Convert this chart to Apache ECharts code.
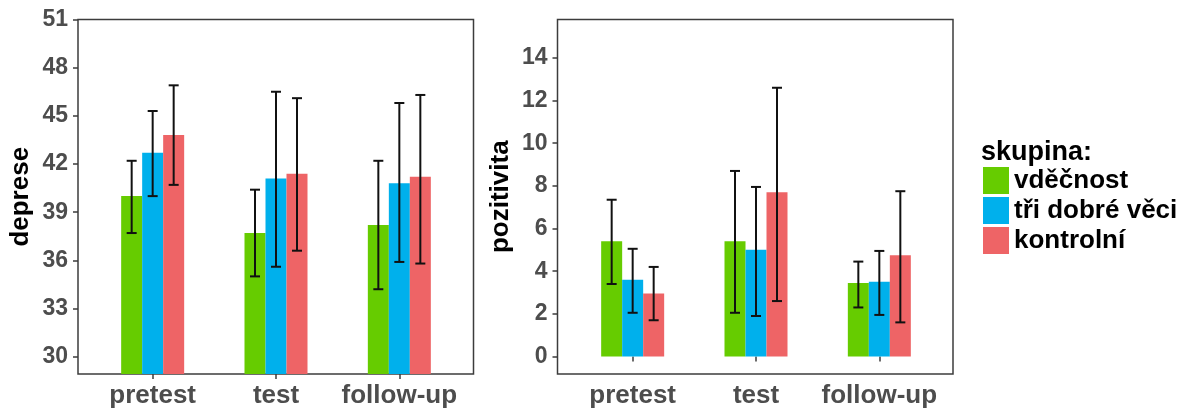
<!DOCTYPE html>
<html>
<head>
<meta charset="utf-8">
<script src="https://cdn.jsdelivr.net/npm/echarts@6/dist/echarts.min.js"></script>
<style>
  html, body { margin: 0; padding: 0; background: #fff; }
  #chart { width: 1180px; height: 409px; }
</style>
</head>
<body>
<div id="chart"></div>
<script>
// data
var categories = ['pretest', 'test', 'follow-up'];
var groups = ['vděčnost', 'tři dobré věci', 'kontrolní'];
var groupColors = ['#66CC00', '#00B0EC', '#EE6466'];

// deprese (left panel)
var depMean = [
  [40.0, 37.7, 38.2],   // vděčnost
  [42.7, 41.1, 40.8],   // tři dobré věci
  [43.8, 41.4, 41.2]    // kontrolní
];
var depLow = [
  [37.7, 35.0, 34.2],
  [40.0, 35.6, 35.9],
  [40.7, 36.6, 35.8]
];
var depHigh = [
  [42.2, 40.4, 42.2],
  [45.3, 46.5, 45.8],
  [46.9, 46.1, 46.3]
];
var depTicks = [30, 33, 36, 39, 42, 45, 48, 51];

// pozitivita (right panel)
var pozMean = [
  [5.4, 5.4, 3.45],
  [3.6, 5.0, 3.5],
  [2.95, 7.7, 4.75]
];
var pozLow = [
  [3.4, 2.05, 2.3],
  [2.05, 1.9, 1.95],
  [1.7, 2.6, 1.6]
];
var pozHigh = [
  [7.35, 8.7, 4.45],
  [5.05, 7.95, 4.95],
  [4.2, 12.6, 7.75]
];
var pozTicks = [0, 2, 4, 6, 8, 10, 12, 14];

var axisGray = '#4d4d4d';
var frameColor = '#3c3c3c';
var barW = 21;

// panel frames (outer box) and inner data grids (narrower so bands match ggplot spacing)
var panels = [
  { frameLeft: 78, dataLeft: 91, name: 'deprese', min: 28.92, max: 51, ticks: depTicks,
    mean: depMean, low: depLow, high: depHigh, nameGap: 44 },
  { frameLeft: 557.5, dataLeft: 571, name: 'pozitivita', min: -0.82, max: 15.8, ticks: pozTicks,
    mean: pozMean, low: pozLow, high: pozHigh, nameGap: 44 }
];
var plotTop = 19.5, plotH = 354.5, frameW = 395.5, dataW = 370;

var grid = [], xAxis = [], yAxis = [], series = [];

panels.forEach(function (p, k) {
  var fi = k * 2, di = k * 2 + 1;
  grid.push({ left: p.frameLeft, top: plotTop, width: frameW, height: plotH,
    show: true, borderColor: frameColor, borderWidth: 1.5, backgroundColor: '#fff' });
  grid.push({ left: p.dataLeft, top: plotTop, width: dataW, height: plotH });

  // frame axes: visible y axis with ticks/labels, x axis only as a hidden helper
  xAxis.push({ gridIndex: fi, type: 'value', min: 0, max: 1, show: false });
  yAxis.push({
    gridIndex: fi, type: 'value', min: p.min, max: p.max,
    name: p.name, nameLocation: 'middle', nameGap: p.nameGap,
    nameTextStyle: { fontFamily: 'Liberation Sans', fontWeight: 'bold', fontSize: 26, color: '#000' },
    axisLine: { show: false },
    splitLine: { show: false },
    axisTick: { show: true, length: 5, customValues: p.ticks,
      lineStyle: { color: frameColor, width: 1.5 } },
    axisLabel: { customValues: p.ticks, margin: 10, fontFamily: 'Liberation Sans',
      fontWeight: 'bold', fontSize: 23, color: axisGray }
  });

  // data axes
  xAxis.push({
    gridIndex: di, type: 'category', data: categories,
    axisLine: { show: false },
    axisTick: { show: true, alignWithLabel: true, interval: 0, length: 5,
      lineStyle: { color: frameColor, width: 1.5 } },
    axisLabel: { interval: 0, margin: 9, fontFamily: 'Liberation Sans', fontWeight: 'bold',
      fontSize: 26, color: axisGray }
  });
  yAxis.push({ gridIndex: di, type: 'value', min: p.min, max: p.max, show: false });

  groups.forEach(function (g, s) {
    series.push({
      name: g, type: 'bar', xAxisIndex: di, yAxisIndex: di,
      barWidth: barW, barGap: '0%',
      itemStyle: { color: groupColors[s] },
      data: p.mean[s]
    });
  });

  // error bars
  var errData = [];
  groups.forEach(function (g, s) {
    categories.forEach(function (c, i) {
      errData.push([i, p.low[s][i], p.high[s][i], s]);
    });
  });
  series.push({
    name: 'err' + k, type: 'custom', xAxisIndex: di, yAxisIndex: di, z: 10,
    data: errData,
    encode: { x: 0, y: [1, 2] },
    renderItem: function (params, api) {
      var off = (api.value(3) - 1) * barW;
      var lo = api.coord([api.value(0), api.value(1)]);
      var hi = api.coord([api.value(0), api.value(2)]);
      var x = lo[0] + off, cap = 5;
      var st = { stroke: '#111', lineWidth: 2 };
      return { type: 'group', children: [
        { type: 'line', shape: { x1: x, y1: lo[1], x2: x, y2: hi[1] }, style: st },
        { type: 'line', shape: { x1: x - cap, y1: lo[1], x2: x + cap, y2: lo[1] }, style: st },
        { type: 'line', shape: { x1: x - cap, y1: hi[1], x2: x + cap, y2: hi[1] }, style: st }
      ] };
    }
  });
});

var chart = echarts.init(document.getElementById('chart'));
chart.setOption({
  animation: false,
  title: {
    text: 'skupina:', left: 981, top: 139, padding: 0,
    textStyle: { fontFamily: 'Liberation Sans', fontWeight: 'bold', fontSize: 27, color: '#000' }
  },
  legend: {
    data: groups, orient: 'vertical', left: 983, top: 167, padding: 0,
    icon: 'rect', itemWidth: 26, itemHeight: 27, itemGap: 3,
    selectedMode: false,
    textStyle: { fontFamily: 'Liberation Sans', fontWeight: 'bold', fontSize: 26,
      color: '#000', lineHeight: 27 }
  },
  grid: grid,
  xAxis: xAxis,
  yAxis: yAxis,
  series: series
});
</script>
</body>
</html>
